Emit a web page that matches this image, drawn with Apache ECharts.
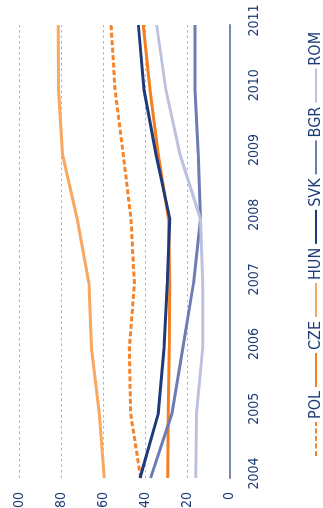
<!DOCTYPE html>
<html>
<head>
<meta charset="utf-8">
<script src="https://cdn.jsdelivr.net/npm/echarts@6/dist/echarts.min.js"></script>
<style>
  html, body { margin: 0; padding: 0; background: #fff; overflow: hidden; }
  body { width: 323px; height: 508px; position: relative; }
  /* The chart is laid out landscape and turned a quarter turn counter-clockwise. */
  #chart {
    position: absolute; left: 0; top: 0;
    width: 508px; height: 323px;
    transform-origin: 0 0;
    transform: translate(0px, 508px) rotate(-90deg);
  }
</style>
</head>
<body>
<div id="chart"></div>
<script>
// Government debt, % of GDP
const years = ['2004', '2005', '2006', '2007', '2008', '2009', '2010', '2011'];
const valueTicks = { min: 0, max: 100, interval: 20 };

const POL = [42.2, 47.0, 47.6, 45.2, 46.8, 50.5, 54.4, 56.3];
const CZE = [29.3, 29.1, 28.6, 28.3, 29.0, 33.8, 37.8, 41.0];
const HUN = [59.5, 61.9, 65.6, 66.8, 72.4, 79.4, 81.3, 81.4];
const SVK = [42.5, 33.8, 31.1, 29.5, 28.3, 34.9, 40.6, 43.3];
const BGR = [37.5, 27.3, 22.2, 17.1, 13.7, 14.8, 16.3, 16.3];
const ROM = [16.0, 15.6, 12.7, 12.7, 13.7, 23.5, 30.2, 34.6];

const NAVY = '#1f3d7a';
const FONT = '"Liberation Sans Narrow", "DejaVu Sans Condensed", "Roboto", sans-serif';

function line(name, data, color, dashed) {
  return {
    name, type: 'line', data,
    symbol: 'none', smooth: false,
    lineStyle: { color, width: 3, type: dashed ? [5, 2.5] : 'solid' },
    itemStyle: { color },
    emphasis: { disabled: true }
  };
}

const chart = echarts.init(document.getElementById('chart'), null, { renderer: 'canvas' });
chart.setOption({
  animation: false,
  backgroundColor: '#ffffff',
  textStyle: { fontFamily: FONT },
  grid: { left: 30, right: 25, top: 19.3, bottom: 93.7, containLabel: false, outerBoundsMode: 'none' },
  legend: {
    left: 46, top: 303, width: 470,
    itemWidth: 34, itemHeight: 14, itemGap: 3,
    itemStyle: { opacity: 0 },
    textStyle: { color: NAVY, fontSize: 16, fontFamily: FONT, padding: [0, 0, 0, -2] },
    data: ['POL', 'CZE', 'HUN', 'SVK', 'BGR', 'ROM']
  },
  xAxis: {
    type: 'category', data: years, boundaryGap: false,
    axisLine: { show: true, lineStyle: { color: '#7b86b6', width: 2 } },
    axisTick: { show: false },
    axisLabel: { color: NAVY, fontSize: 14, fontFamily: FONT, margin: 18, padding: [0, 0, 0, 9] },
    splitLine: { show: false }
  },
  yAxis: {
    type: 'value', min: valueTicks.min, max: valueTicks.max, interval: valueTicks.interval,
    axisLine: { show: false }, axisTick: { show: false },
    axisLabel: { color: NAVY, fontSize: 14, fontFamily: FONT, margin: 14, padding: [0, 0, 7, 0] },
    splitLine: { show: true, lineStyle: { color: '#aeaecd', width: 1, type: [2.5, 3] } }
  },
  series: [
    line('POL', POL, '#f5832a', true),
    line('CZE', CZE, '#f47f20', false),
    line('HUN', HUN, '#f9a862', false),
    line('SVK', SVK, '#1f3a7c', false),
    line('BGR', BGR, '#6f7cb3', false),
    line('ROM', ROM, '#bcc1de', false)
  ]
});
</script>
</body>
</html>
